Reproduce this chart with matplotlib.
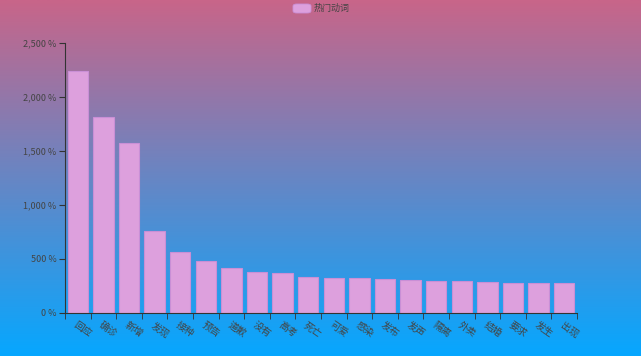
import numpy as np
import matplotlib.pyplot as plt
from matplotlib.colors import LinearSegmentedColormap
from matplotlib.patches import FancyBboxPatch

plt.rcParams['font.family'] = ['Noto Sans CJK SC', 'DejaVu Sans']

words = ['回应', '确诊', '新增', '发现', '接种', '预告', '道歉', '没有', '高考', '死亡',
         '可爱', '感染', '发布', '发声', '隔离', '外卖', '结婚', '要求', '发生', '出现']
values = [2243, 1815, 1577, 756, 565, 479, 414, 382, 367, 333,
          324, 321, 315, 306, 299, 293, 284, 281, 278, 277]
series_name = '热门动词'
yticks = [0, 500, 1000, 1500, 2000, 2500]

W, H = 641, 356
fig = plt.figure(figsize=(W / 100, H / 100), dpi=100)

# background gradient
bg = fig.add_axes([0, 0, 1, 1], zorder=-1)
cmap = LinearSegmentedColormap.from_list('bg', ['#c86589', '#06a7ff'])
bg.imshow(np.linspace(0, 1, 256).reshape(-1, 1), aspect='auto', cmap=cmap,
          extent=[0, 1, 0, 1], origin='upper')
bg.axis('off')

ax = fig.add_axes([65 / W, 1 - 313 / H, (577 - 65) / W, (313 - 43) / H])
ax.patch.set_alpha(0)
x = np.arange(len(words))
ax.bar(x, values, width=0.8, color='#dda0dd', edgecolor='#c98fd6', linewidth=0.8)
ax.set_xlim(-0.5, len(words) - 0.5)
ax.set_ylim(0, 2500)
ax.set_yticks(yticks)
ax.set_yticklabels([f'{v:,} %' for v in yticks], fontsize=6.5, color='#444444')
ax.set_xticks(np.arange(len(words) + 1) - 0.5, minor=True)
ax.set_xticks(x)
ax.set_xticklabels(words, rotation=-35, ha='left', rotation_mode='anchor',
                   fontsize=7, color='#444444')
ax.tick_params(axis='x', which='major', length=0, pad=5)
ax.tick_params(axis='x', which='minor', length=4, color='#333333')
ax.tick_params(axis='y', length=4, color='#333333', pad=2)
for s in ['top', 'right']:
    ax.spines[s].set_visible(False)
ax.spines['left'].set_color('#333333')
ax.spines['bottom'].set_color('#333333')

# legend
leg = FancyBboxPatch((293 / W, 1 - 13 / H), 18 / W, 9 / H,
                     boxstyle='round,pad=0,rounding_size=0.006',
                     transform=fig.transFigure, facecolor='#dda0dd',
                     edgecolor='#c98fd6', linewidth=0.6)
fig.patches.append(leg)
fig.text(314 / W, 1 - 8.5 / H, series_name, fontsize=6.5, color='#444444',
         va='center', ha='left')

fig.savefig('out.png', dpi=100)
